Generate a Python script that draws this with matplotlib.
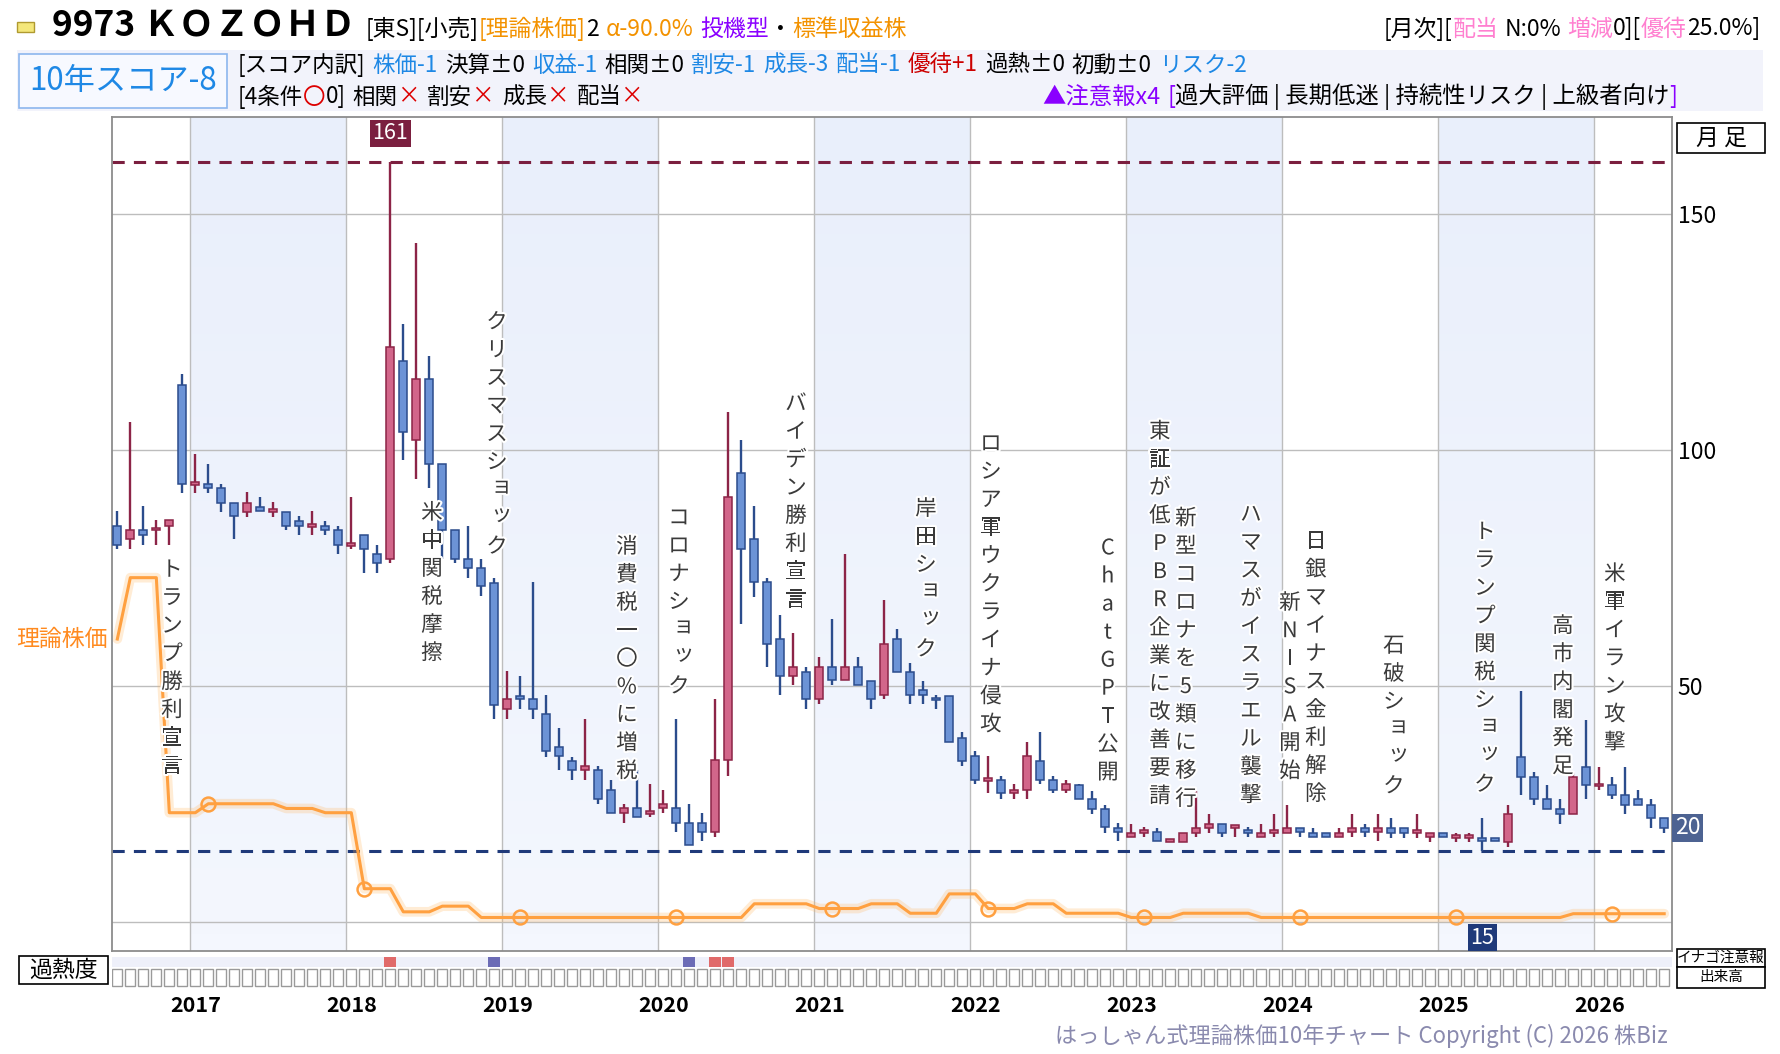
import numpy as np
import pandas as pd
import matplotlib
matplotlib.use('Agg')
import matplotlib.pyplot as plt
from matplotlib.patches import Rectangle
import matplotlib.patheffects as pe
from matplotlib.colors import LinearSegmentedColormap

plt.rcParams['font.family'] = ['Noto Sans CJK JP', 'DejaVu Sans']

# ---- data (monthly, 2016-07 .. 2026-06) ----
months = pd.period_range('2016-07', periods=120, freq='M')

opens = [84.0, 81.1, 83.1, 83.0, 84.0, 113.9, 92.6, 92.9, 92.1, 88.9,
         86.9, 88.0, 86.9, 86.9, 85.1, 83.8, 84.0, 83.1, 79.8, 82.0,
         78.0, 77.0, 118.9, 102.1, 115.0, 97.0, 83.0, 77.0, 75.1, 71.9,
         45.1, 48.0, 47.2, 44.2, 37.1, 34.2, 32.2, 32.2, 28.1, 23.2,
         24.1, 23.0, 24.1, 24.1, 21.1, 21.1, 19.1, 34.3, 95.1, 81.1,
         72.0, 60.1, 52.1, 53.0, 47.2, 54.1, 51.3, 54.1, 51.1, 48.1,
         60.1, 53.0, 49.2, 47.4, 48.0, 39.1, 35.2, 30.0, 30.2, 27.3,
         28.1, 34.2, 30.2, 28.1, 29.0, 26.1, 23.9, 20.0, 18.0, 19.0,
         19.1, 17.0, 17.0, 18.9, 20.0, 20.8, 20.0, 19.2, 18.0, 19.0,
         18.9, 20.0, 18.9, 18.9, 18.0, 19.1, 20.0, 19.1, 20.0, 20.0,
         19.0, 18.0, 18.9, 17.9, 17.9, 17.9, 17.9, 17.0, 35.0, 30.8,
         26.0, 23.9, 23.0, 32.9, 28.8, 29.0, 27.0, 26.0, 24.9, 22.0]
highs = [87.1, 106.0, 88.1, 85.2, 85.2, 116.1, 99.2, 97.0, 92.9, 88.9,
         91.1, 90.0, 89.0, 86.9, 86.0, 87.1, 85.1, 84.0, 90.0, 82.0,
         80.0, 161.0, 126.8, 143.8, 119.9, 97.0, 83.0, 84.0, 77.0, 73.0,
         53.2, 52.1, 72.0, 48.1, 41.2, 35.0, 43.1, 33.1, 30.2, 25.1,
         32.2, 29.2, 28.1, 43.1, 25.1, 23.2, 47.2, 108.0, 102.1, 88.1,
         73.0, 65.0, 61.2, 54.1, 56.1, 64.2, 78.1, 56.1, 51.1, 68.2,
         62.1, 55.0, 51.1, 48.1, 48.0, 40.2, 36.2, 35.2, 31.0, 29.2,
         38.1, 40.2, 31.0, 30.2, 29.2, 27.8, 24.9, 21.0, 20.8, 20.1,
         20.0, 17.6, 18.9, 27.8, 23.0, 20.8, 20.3, 20.1, 20.8, 23.0,
         24.9, 20.0, 20.0, 18.9, 20.0, 23.0, 20.8, 23.0, 22.0, 20.0,
         23.0, 18.9, 18.9, 18.9, 18.9, 22.0, 17.9, 24.9, 48.9, 31.9,
         29.0, 26.0, 31.9, 42.9, 32.9, 30.8, 32.9, 28.0, 26.0, 22.0]
lows = [79.0, 79.0, 79.9, 79.9, 79.9, 91.0, 91.0, 91.0, 86.9, 81.1,
        85.9, 87.1, 85.9, 83.1, 82.1, 82.1, 82.1, 78.1, 79.0, 74.0,
        74.0, 76.0, 98.0, 94.0, 92.1, 77.0, 76.0, 73.0, 69.1, 43.1,
        43.1, 45.1, 43.1, 35.0, 32.2, 30.2, 30.2, 25.1, 23.2, 21.1,
        22.2, 22.2, 23.2, 19.1, 16.3, 17.2, 18.1, 31.0, 63.1, 68.9,
        54.1, 48.1, 50.2, 45.1, 46.2, 50.2, 51.3, 50.2, 45.1, 47.2,
        53.0, 46.2, 46.2, 45.1, 38.1, 33.1, 29.2, 27.3, 26.2, 26.2,
        26.2, 29.2, 27.3, 27.3, 26.1, 23.0, 19.0, 17.1, 18.0, 18.0,
        17.2, 17.0, 17.0, 18.0, 18.9, 18.0, 18.0, 18.0, 18.0, 18.0,
        18.9, 18.0, 18.0, 18.0, 18.0, 18.0, 18.0, 17.2, 17.9, 17.9,
        17.9, 17.0, 18.0, 17.0, 17.0, 15.0, 17.2, 16.0, 27.0, 24.9,
        23.9, 20.9, 23.0, 26.0, 28.0, 26.0, 23.0, 24.9, 20.0, 18.9]
closes = [80.0, 83.1, 82.1, 83.2, 85.2, 92.9, 93.2, 92.0, 88.9, 86.0,
          88.9, 87.1, 87.3, 84.0, 84.0, 84.2, 83.1, 80.0, 80.2, 79.0,
          76.0, 121.9, 103.9, 115.0, 97.0, 83.0, 77.0, 75.1, 71.2, 46.1,
          47.2, 47.2, 45.1, 36.2, 35.2, 32.2, 33.1, 26.2, 23.2, 24.1,
          22.2, 23.4, 25.1, 21.1, 16.3, 19.1, 34.3, 90.0, 79.0, 72.0,
          59.0, 52.1, 54.1, 47.2, 54.1, 51.3, 54.1, 50.2, 47.2, 59.0,
          53.0, 48.1, 48.1, 47.0, 38.1, 34.2, 30.2, 30.4, 27.3, 28.1,
          35.2, 30.2, 28.1, 29.2, 26.1, 23.9, 20.2, 19.2, 18.9, 19.2,
          17.2, 17.5, 18.9, 20.0, 20.8, 18.9, 20.3, 19.0, 18.9, 19.2,
          20.0, 19.1, 18.0, 18.0, 18.9, 20.0, 19.1, 20.0, 18.9, 18.9,
          19.2, 18.9, 18.0, 18.1, 18.1, 17.2, 17.2, 23.0, 30.8, 26.0,
          23.9, 23.0, 30.8, 29.0, 29.2, 27.0, 24.9, 24.9, 22.0, 20.0]

theory = [60.0, 73.0, 73.0, 73.0, 23.2, 23.2, 23.2, 25.1, 25.1, 25.1,
          25.1, 25.1, 25.1, 24.1, 24.1, 24.1, 23.2, 23.2, 23.2, 7.1,
          7.1, 7.1, 2.2, 2.2, 2.2, 3.4, 3.4, 3.4, 1.0, 1.0,
          1.0, 1.0, 1.0, 1.0, 1.0, 1.0, 1.0, 1.0, 1.0, 1.0,
          1.0, 1.0, 1.0, 1.0, 1.0, 1.0, 1.0, 1.0, 1.0, 3.9,
          3.9, 3.9, 3.9, 3.9, 2.9, 2.9, 2.9, 2.9, 3.9, 3.9,
          3.9, 1.9, 1.9, 1.9, 6.0, 6.0, 6.0, 2.9, 2.9, 2.9,
          3.9, 3.9, 3.9, 1.9, 1.9, 1.9, 1.9, 1.9, 1.0, 1.0,
          1.0, 1.0, 1.9, 1.9, 1.9, 1.9, 1.9, 1.9, 1.0, 1.0,
          1.0, 1.0, 1.0, 1.0, 1.0, 1.0, 1.0, 1.0, 1.0, 1.0,
          1.0, 1.0, 1.0, 1.0, 1.0, 1.0, 1.0, 1.0, 1.0, 1.0,
          1.0, 1.0, 1.8, 1.8, 1.8, 1.8, 1.8, 1.8, 1.8, 1.8]
theory_marks = [7, 19, 31, 43, 55, 67, 79, 91, 103, 115]

heat_up = [21, 46, 47]
heat_down = [29, 44]

years = [2017, 2018, 2019, 2020, 2021, 2022, 2023, 2024, 2025, 2026]
shaded_years = [2017, 2019, 2021, 2023, 2025]

event_months = [4, 24, 29, 39, 43, 52, 62, 67, 76, 80, 82, 87, 90, 92, 98, 105, 111, 115]
event_labels = ['トランプ勝利宣言', '米中関税摩擦', 'クリスマスショック', '消費税一〇%に増税',
                'コロナショック', 'バイデン勝利宣言', '岸田ショック', 'ロシア軍ウクライナ侵攻',
                'ChatGPT公開', '東証が低PBR企業に改善要請', '新型コロナを5類に移行',
                'ハマスがイスラエル襲撃', '新NISA開始', '日銀マイナス金利解除', '石破ショック',
                'トランプ関税ショック', '高市内閣発足', '米軍イラン攻撃']
event_tops = [74.6, 86.7, 127.1, 79.5, 85.6, 109.8, 87.5, 101.3, 79.2, 103.9,
              85.5, 86.3, 67.6, 80.6, 58.5, 82.6, 62.7, 73.7]

# ---- figure ----
W, H = 1780, 1054
fig = plt.figure(figsize=(W / 100, H / 100), dpi=100)
fig.patch.set_facecolor('white')


def fx(px):
    return px / W


def fy(py):
    return 1 - py / H


def fbox(x0, y0, x1, y1, fc='white', ec='black', lw=1.2, z=1):
    fig.add_artist(Rectangle((fx(x0), fy(y1)), fx(x1) - fx(x0), fy(y0) - fy(y1),
                             transform=fig.transFigure, facecolor=fc, edgecolor=ec,
                             linewidth=lw, zorder=z))


def runs(x_px, y_px, parts, size, align='left', weight='normal'):
    # draw a line of differently coloured text pieces side by side
    r = fig.canvas.get_renderer()
    placed = []
    cur = 0
    for s, col, gap in parts:
        cur += gap
        t = fig.text(0, 0, s, color=col, fontsize=size, fontweight=weight,
                     va='center', ha='left', zorder=5)
        placed.append((t, cur))
        cur += t.get_window_extent(r).width
    start = x_px if align == 'left' else x_px - cur
    for t, off in placed:
        t.set_position((fx(start + off), fy(y_px)))


ax = fig.add_axes([fx(112), fy(951), fx(1672) - fx(112), fy(117) - fy(951)])
x = np.arange(len(months))
o, h, l, c = map(np.array, (opens, highs, lows, closes))

ax.set_xlim(-0.41, 119.6)
ax.set_ylim(-6.1, 170.6)

# alternating year shading
grad = np.linspace(0, 1, 50).reshape(-1, 1)
cmap = LinearSegmentedColormap.from_list('band', ['#F4F7FE', '#E9EFFB'])
for yr in shaded_years:
    j = (yr - 2016) * 12 - 6
    ax.imshow(grad, extent=[j - 0.385, j + 11.615, -6.1, 170.6], origin='lower',
              cmap=cmap, aspect='auto', zorder=0)

for yr in years:
    j = (yr - 2016) * 12 - 6
    ax.axvline(j - 0.385, color='#BDBDBD', lw=1, zorder=1)
ax.set_yticks([0, 50, 100, 150])
ax.set_yticklabels(['', '50', '100', '150'])
ax.grid(axis='y', color='#BDBDBD', lw=1, zorder=1)
ax.set_axisbelow(True)
ax.set_xticks([])
ax.yaxis.tick_right()
ax.tick_params(axis='y', length=0, labelsize=16.5, pad=4)
for sp in ax.spines.values():
    sp.set_color('#8C8C8C')
    sp.set_linewidth(1.3)

# max / min lines
ax.axhline(max(highs), color='#7B1F3F', lw=2.2, ls=(0, (4, 3)), zorder=2)
ax.axhline(min(lows), color='#1F3A7A', lw=2.2, ls=(0, (4, 3)), zorder=2)

# theoretical price line with glow
ax.plot(x, theory, color='#FFB45A', lw=7, alpha=0.25, zorder=2, solid_capstyle='round')
ax.plot(x, theory, color='#FFA040', lw=2.2, zorder=3)
ax.plot(theory_marks, [theory[k] for k in theory_marks], 'o', ms=10, mfc='none',
        mec='#FFA040', mew=1.8, zorder=3)

# candles
up = c >= o
body_lo = np.minimum(o, c)
body_h = np.maximum(np.abs(c - o), 0.55)
ax.vlines(x[up], l[up], h[up], color='#8C2447', lw=1.7, zorder=4)
ax.vlines(x[~up], l[~up], h[~up], color='#2B4C8C', lw=1.7, zorder=4)
ax.bar(x[up], body_h[up], bottom=body_lo[up], width=0.64, color='#D2668A',
       edgecolor='#8C2447', lw=1.1, zorder=5)
ax.bar(x[~up], body_h[~up], bottom=body_lo[~up], width=0.64, color='#6C93D6',
       edgecolor='#2B4C8C', lw=1.1, zorder=5)

# event labels (vertical writing)
small = 'ャュョッァィゥェォ'
for m, lab, top in zip(event_months, event_labels, event_tops):
    for k, ch in enumerate(lab):
        dx, dy = (3.5, 3) if ch in small else (0, 0)
        ax.annotate(ch, xy=(m + 0.2, top), xytext=(dx, -k * 20.2 + dy),
                    textcoords='offset points', ha='center', va='center',
                    fontsize=15.5, color='#3A3A3A', zorder=7,
                    path_effects=[pe.withStroke(linewidth=3, foreground='white')])

# value tags
imax = int(np.argmax(h))
imin = int(np.argmin(l))
ax.annotate(f'{max(highs):.0f}', xy=(imax, max(highs)), xytext=(0, 21),
            textcoords='offset points', ha='center', va='center', fontsize=15.5,
            color='white', zorder=8,
            bbox=dict(boxstyle='square,pad=0.12', fc='#7B1F3F', ec='none'))
ax.annotate(f'{min(lows):.0f}', xy=(imin, min(lows)), xytext=(0, -62),
            textcoords='offset points', ha='center', va='center', fontsize=15.5,
            color='white', zorder=8,
            bbox=dict(boxstyle='square,pad=0.12', fc='#1F3A7A', ec='none'))
ax.annotate(f'{closes[-1]:.0f}', xy=(1, closes[-1]), xycoords=('axes fraction', 'data'),
            xytext=(2, 0), textcoords='offset points', ha='left', va='center',
            fontsize=16.5, color='white', zorder=8, annotation_clip=False,
            bbox=dict(boxstyle='square,pad=0.1', fc='#4D6392', ec='none'))
ax.annotate('理論株価', xy=(0, theory[0]), xycoords=('axes fraction', 'data'),
            xytext=(-3, 0), textcoords='offset points', ha='right', va='center',
            fontsize=16.5, color='#FF8A1F', annotation_clip=False)

# overheat strip
axh = fig.add_axes([fx(112), fy(988), fx(1672) - fx(112), fy(953) - fy(988)])
axh.set_xlim(-0.41, 119.6)
axh.set_ylim(0, 35)
axh.axis('off')
axh.add_patch(Rectangle((-0.41, 21), 120.01, 10, fc='#EEF0FA', ec='none'))
axh.bar(x, 17, bottom=2, width=0.78, color='white', edgecolor='#9A9A9A', lw=1)
axh.bar(heat_up, 10, bottom=21, width=0.9, color='#E06A6A')
axh.bar(heat_down, 10, bottom=21, width=0.9, color='#6C6CB6')
for yr in years:
    j = (yr - 2016) * 12 - 6
    axh.annotate(str(yr), xy=(j, 0), xycoords=('data', 'axes fraction'),
                 xytext=(0, -12.5), textcoords='offset points', ha='center',
                 va='center', fontsize=15.5, fontweight='bold', annotation_clip=False)

fbox(19, 956, 108, 984)
fig.text(fx(63.5), fy(970), '過熱度', ha='center', va='center', fontsize=16.5)
fbox(1677, 949, 1765, 967)
fig.text(fx(1721), fy(958), 'イナゴ注意報', ha='center', va='center', fontsize=10.5)
fbox(1677, 967, 1765, 988)
fig.text(fx(1721), fy(977.5), '出来高', ha='center', va='center', fontsize=10.5)
fbox(1677, 123, 1765, 153)
fig.text(fx(1721), fy(138), '月 足', ha='center', va='center', fontsize=16.5)

fig.text(fx(1668), fy(1036), 'はっしゃん式理論株価10年チャート Copyright (C) 2026 株Biz',
         ha='right', va='center', fontsize=16, color='#8A8AAE')

# ---- header ----
fbox(17, 22, 34, 32, fc='#F4E77A', ec='#B09A30', lw=1)
fig.text(fx(52), fy(26), '9973 ＫＯＺＯＨＤ', ha='left', va='center',
         fontsize=25.5, fontweight='bold')
orange = '#F39200'
purple = '#8A00FF'
blue = '#1E88E5'
pink = '#FF80D0'
k = 'black'
runs(366, 29, [('[東S][小売]', k, 0), ('[理論株価]', orange, 0), ('2', k, 0),
               ('α-90.0%', orange, 7), ('投機型', purple, 7), ('・', k, 0),
               ('標準収益株', orange, 0)], 16.5)
runs(1760, 29, [('[月次][', k, 0), ('配当', pink, 0), ('N:0%', k, 6), ('増減', pink, 6),
                ('0][', k, 0), ('優待', pink, 0), ('25.0%]', k, 0)], 16.5, align='right')

fbox(17, 50, 1763, 111, fc='#F2F3FB', ec='none', lw=0)
fbox(19, 54, 227, 108, fc='#F7F9FF', ec='#8DB6EE', lw=1.2, z=2)
fig.text(fx(123), fy(81), '10年スコア-8', ha='center', va='center', fontsize=22.5,
         color=blue, zorder=5)
runs(238, 65, [('[スコア内訳]', k, 0), ('株価-1', blue, 7), ('決算±0', k, 7),
               ('収益-1', blue, 7), ('相関±0', k, 7), ('割安-1', blue, 7),
               ('成長-3', blue, 7), ('配当-1', blue, 7), ('優待+1', '#CC0000', 7),
               ('過熱±0', k, 7), ('初動±0', k, 7), ('リスク-2', blue, 7)], 16.2)
runs(238, 97, [('[4条件', k, 0), ('〇', '#DD0000', 0), ('0]', k, 0),
               ('相関', k, 7), ('×', '#DD0000', 0), ('割安', k, 7), ('×', '#DD0000', 0),
               ('成長', k, 7), ('×', '#DD0000', 0), ('配当', k, 7), ('×', '#DD0000', 0)], 16.2)
runs(1042, 97, [('▲注意報x4', purple, 0), ('[', purple, 7),
                ('過大評価 | 長期低迷 | 持続性リスク | 上級者向け', k, 0),
                (']', purple, 0)], 16.8)

fig.savefig('out.png', dpi=100)
